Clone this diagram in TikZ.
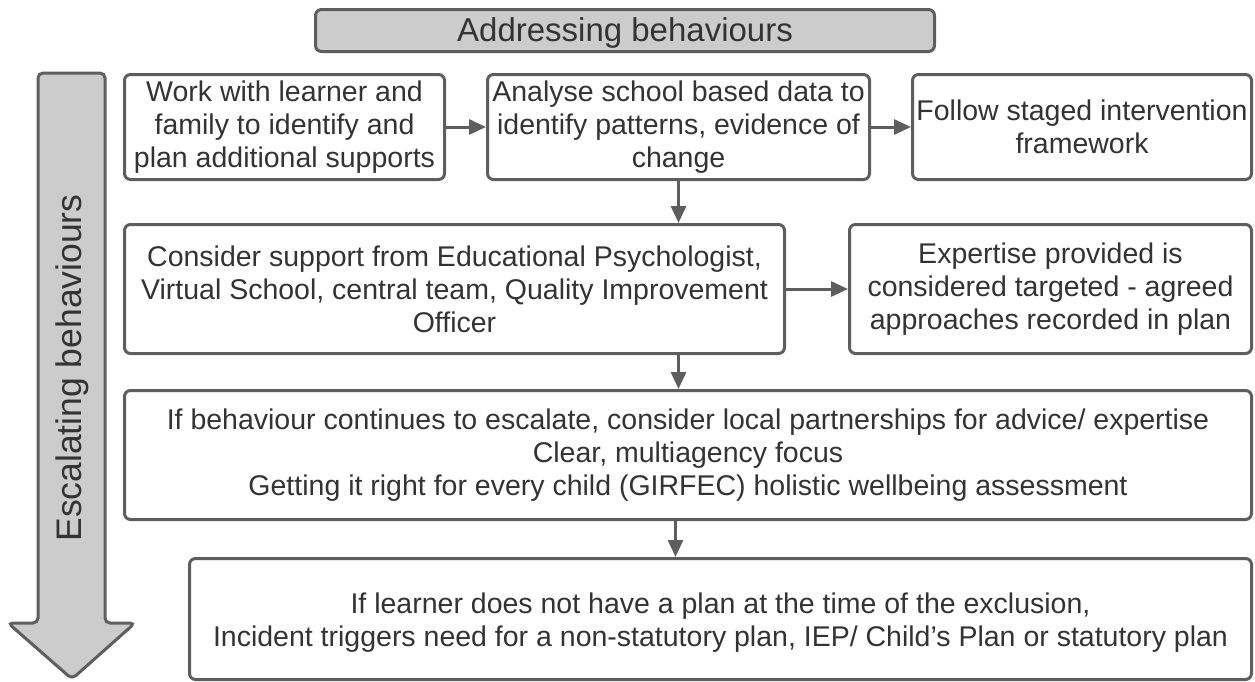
\documentclass[tikz,border=0pt]{standalone}
\usepackage{fontspec}
\setmainfont{Liberation Sans}
\usetikzlibrary{arrows.meta}
\definecolor{edge}{HTML}{5E5E5E}
\definecolor{greyfill}{HTML}{CCCCCC}
\definecolor{txt}{HTML}{333333}
\tikzset{
  box/.style={draw=edge, line width=3pt, rounded corners=6pt, fill=white, align=center,
    text=txt, font=\fontsize{28.5}{33}\selectfont, anchor=north west, inner sep=0pt},
  label text/.style={align=center, text=txt, font=\fontsize{28.5}{33}\selectfont, inner sep=0pt},
  conn/.style={draw=edge, line width=3pt, -{Triangle[length=17pt,width=15pt]}},
}
\begin{document}
\begin{tikzpicture}[x=1pt,y=-1pt]
\useasboundingbox (0,0) rectangle (1255,681);
% title
\node[box, fill=greyfill, minimum width=619pt, minimum height=42pt] (title) at (314,8) {};
\node[label text, font=\fontsize{33}{37}\selectfont] (titletext) at ([yshift=-2pt]title.center) {Addressing behaviours};
% big arrow
\draw[draw=edge, line width=3pt, fill=greyfill, rounded corners=5pt]
  (38,623) -- (38,73) -- (105,73) -- (105,623) -- (135,623) -- (72,679) -- (8,623) -- cycle;
\node[rotate=90, text=txt, font=\fontsize{35.5}{40}\selectfont] (esc) at (72,368) {Escalating behaviours};
% boxes
\node[box, minimum width=320pt, minimum height=105pt] (b1) at (123,73) {Work with learner and\\family to identify and\\plan additional supports};
\node[box, minimum width=382pt, minimum height=105pt] (b2) at (486,73) {Analyse school based data to\\identify patterns, evidence of\\change};
\node[box, minimum width=339pt, minimum height=105pt] (b3) at (911,73) {Follow staged intervention\\framework};
\node[box, minimum width=660pt, minimum height=129pt] (b4) at (123,223) {Consider support from Educational Psychologist,\\Virtual School, central team, Quality Improvement\\Officer};
\node[box, minimum width=402pt, minimum height=129pt] (b5) at (848,223) {Expertise provided is\\considered targeted - agreed\\approaches recorded in plan};
\node[box, minimum width=1127pt, minimum height=129pt] (b6) at (123,389) {If behaviour continues to escalate, consider local partnerships for advice/ expertise\\Clear, multiagency focus\\Getting it right for every child (GIRFEC) holistic wellbeing assessment};
\node[box, minimum width=1062pt, minimum height=121pt] (b7) at (188,557) {};
\node[label text] (b7text) at ([yshift=-4pt]b7.center) {If learner does not have a plan at the time of the exclusion,\\Incident triggers need for a non-statutory plan, IEP/ Child’s Plan or statutory plan};
% connectors
\draw[conn] (b1.east) -- (b2.west);
\draw[conn] (b2.east) -- (b3.west);
\draw[conn] (b2.south) -- (b2.south |- b4.north);
\draw[conn] (b4.east) -- (b5.west);
\draw[conn] (b2.south |- b4.south) -- (b2.south |- b6.north);
\draw[conn] ([xshift=-3pt]b2.south |- b6.south) -- ([xshift=-3pt]b2.south |- b7.north);
\end{tikzpicture}
\end{document}
